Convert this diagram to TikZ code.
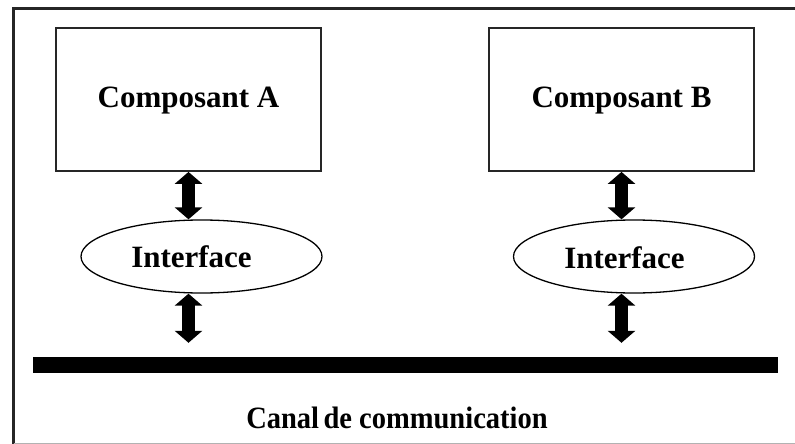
\documentclass[tikz,border=0pt]{standalone}
\usepackage{fontspec}
\setmainfont{Liberation Serif}
\usetikzlibrary{shapes.geometric,arrows.meta}
\tikzset{
  compbox/.style={draw=black!85, line width=1.8pt, rectangle, minimum width=265pt, minimum height=143pt, inner sep=0pt},
  iface/.style={draw=black, line width=1.3pt, ellipse, minimum width=241pt, minimum height=73pt, inner sep=0pt},
  lbl/.style={font=\fontsize{31}{31}\selectfont\bfseries, inner sep=0pt, anchor=base},
  dblarrow/.style={line width=13pt, {Triangle[width=27pt,length=12pt]}-{Triangle[width=27pt,length=12pt]}},
  busbar/.style={fill=black, rectangle, minimum width=745pt, minimum height=16pt, inner sep=0pt}
}
\begin{document}
\begin{tikzpicture}[x=1pt,y=-1pt]
  \useasboundingbox (0,0) rectangle (795,444);
  % outer frame (open on the right)
  \draw[line width=3pt, black!85] (795,9) -- (13.5,9) -- (13.5,444);
  \draw[line width=1pt, black!30] (13.5,443) -- (795,443);

  % components
  \node[compbox] (A) at (188.5,99.5) {};
  \node[compbox] (B) at (621.5,99.5) {};
  \node[lbl] (Alab) at (188.5,107) {Composant A};
  \node[lbl] (Blab) at (621.5,107) {Composant B};

  % interfaces
  \node[iface] (IA) at (201.5,256.5) {};
  \node[iface] (IB) at (634,256.5) {};
  \node[lbl] (IAlab) at (191.5,267) {Interface};
  \node[lbl] (IBlab) at (624.5,268) {Interface};

  % communication channel
  \node[busbar] (bus) at (405.5,365) {};
  \node[lbl, xscale=0.92] (buslab) at (397,428) {Canal\hspace{-3pt} de communication};

  % double arrows
  \draw[dblarrow] (A.south) -- (A.south |- IA.north);
  \draw[dblarrow] (B.south) -- (B.south |- IB.north);
  \draw[dblarrow, shorten >=14pt] (A.south |- IA.south) -- (A.south |- bus.north);
  \draw[dblarrow, shorten >=14pt] (B.south |- IB.south) -- (B.south |- bus.north);
\end{tikzpicture}
\end{document}
